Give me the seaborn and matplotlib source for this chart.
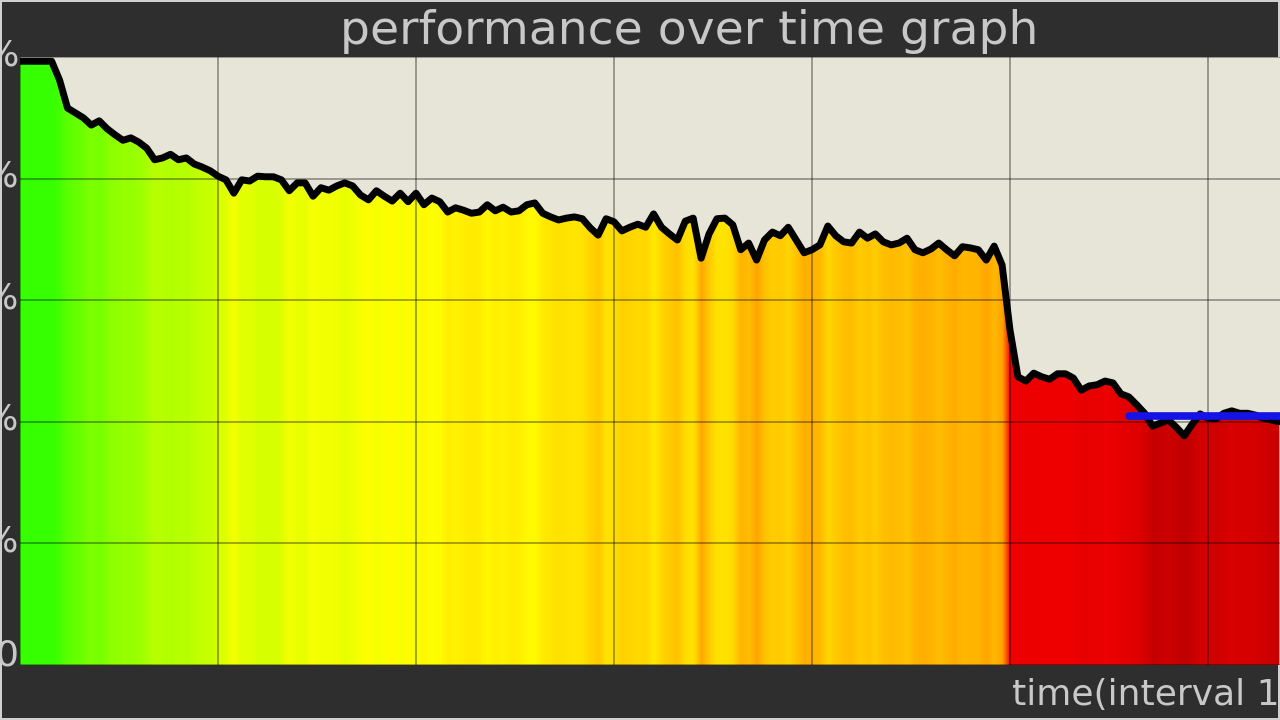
import numpy as np
import matplotlib
matplotlib.use("Agg")
import matplotlib.pyplot as plt
import matplotlib.colors as mcolors
import matplotlib.transforms as mtransforms
import seaborn as sns

# performance samples (%), one per time step
performance = [
    99.3, 99.3, 99.3, 99.3, 99.3, 96.2, 91.6, 90.8, 90.0, 88.8,
    89.5, 88.2, 87.2, 86.3, 86.7, 86.0, 85.0, 83.1, 83.4, 84.0,
    83.1, 83.4, 82.4, 81.9, 81.3, 80.4, 79.8, 77.6, 79.8, 79.6,
    80.4, 80.3, 80.3, 79.8, 78.0, 79.3, 79.3, 77.1, 78.5, 78.1,
    78.8, 79.3, 78.8, 77.3, 76.5, 78.0, 77.1, 76.3, 77.6, 76.2,
    77.6, 75.7, 76.8, 76.2, 74.5, 75.2, 74.8, 74.3, 74.5, 75.7,
    74.7, 75.3, 74.5, 74.7, 75.7, 76.0, 74.3, 73.7, 73.2, 73.5,
    73.7, 73.4, 71.9, 70.7, 73.4, 72.9, 71.4, 72.0, 72.5, 72.0,
    74.2, 72.0, 70.9, 69.9, 73.0, 73.5, 66.9, 70.9, 73.4, 73.5,
    72.4, 68.3, 69.4, 66.6, 69.9, 71.2, 70.6, 72.0, 69.9, 67.8,
    68.3, 69.1, 72.2, 70.6, 69.6, 69.4, 71.2, 70.2, 70.9, 69.6,
    69.1, 69.4, 70.2, 68.3, 67.8, 68.4, 69.4, 68.3, 67.3, 68.8,
    68.6, 68.3, 66.6, 68.9, 65.8, 55.1, 47.4, 46.7, 48.0, 47.4,
    47.0, 47.9, 47.9, 47.2, 45.2, 45.9, 46.1, 46.7, 46.4, 44.6,
    44.1, 42.8, 41.4, 39.3, 39.8, 40.3, 39.1, 37.7, 39.6, 41.3,
    40.6, 40.5, 41.4, 41.8, 41.4, 41.4, 41.1, 40.6, 40.3, 40.0,
]
time_steps = list(range(len(performance)))

# blue reference level over the last part of the run
reference_start = 140
reference_level = 41.0

y_ticks = [0, 20, 40, 60, 80, 100]
y_tick_labels = ["0", "20%", "40%", "60%", "80%", "100%"]
x_grid = [0, 25, 50, 75, 100, 125, 150]

# value -> colour scale (green good, red bad)
color_stops = [
    (35, "#b00000"), (39, "#c40000"), (42, "#dc0000"), (47, "#ee0000"),
    (56, "#f20000"), (60, "#ff5000"), (65, "#ff9a00"), (68, "#ffb000"),
    (71, "#ffcc00"), (74, "#ffe800"), (76.5, "#ffff00"), (79, "#eeff00"),
    (81, "#ccff00"), (84, "#b0ff00"), (88, "#88ff00"), (92, "#55ff00"),
    (100, "#33ff00"),
]

DARK = "#2e2e2e"
TEXT = "#c8c8c8"
PLOT_BG = "#e7e5d7"

sns.set_style("dark")
plt.rcParams["font.family"] = ["DejaVu Sans"]

lo, hi = color_stops[0][0], color_stops[-1][0]
cmap = mcolors.LinearSegmentedColormap.from_list(
    "perf", [((v - lo) / (hi - lo), c) for v, c in color_stops])
norm = mcolors.Normalize(vmin=lo, vmax=hi)
column_colors = np.array([cmap(norm(v)) for v in performance])[np.newaxis, :, :]

fig = plt.figure(figsize=(12.8, 7.2), dpi=100)
fig.patch.set_facecolor(DARK)
fig.patch.set_edgecolor("#d0d0d0")
fig.patch.set_linewidth(1.5)

W, H = 1280, 720
px_per_step = 7.92
left_px, top_px, bottom_px = 20, 57, 665
ax = fig.add_axes([left_px / W, (H - bottom_px) / H,
                   160 * px_per_step / W, (bottom_px - top_px) / H])
ax.set_facecolor(PLOT_BG)

# coloured fill under the curve: colour strip clipped to the area
area = ax.fill_between(time_steps, performance, 0, facecolor="none",
                       linewidth=0)
strip = ax.imshow(column_colors, aspect="auto", interpolation="bilinear",
                  extent=[-0.5, len(performance) - 0.5, 0, 100],
                  origin="lower", zorder=1)
strip.set_clip_path(area.get_paths()[0], transform=ax.transData)

sns.lineplot(x=time_steps, y=performance, ax=ax, color="black",
             linewidth=5.0, zorder=3, solid_joinstyle="round")

ref_x = [reference_start, time_steps[-1] + 1]
sns.lineplot(x=ref_x, y=[reference_level, reference_level], ax=ax,
             color="#1414e6", linewidth=5.5, zorder=4)

ax.set_xlim(0, 160)
ax.set_ylim(0, 100)

for xg in x_grid:
    ax.axvline(xg, color="black", alpha=0.4, linewidth=1.2, zorder=2)
for yg in y_ticks:
    ax.axhline(yg, color="black", alpha=0.4, linewidth=1.2, zorder=2)

ax.set_xticks([])
ax.set_yticks([])
for s in ax.spines.values():
    s.set_visible(False)
ax.grid(False)
ax.set_xlabel("")
ax.set_ylabel("")

# y labels, right-aligned against the plot edge
label_tf = mtransforms.blended_transform_factory(ax.transAxes, ax.transData)
for yv, lab in zip(y_ticks, y_tick_labels):
    dy = 9 if yv == 0 else 2
    tf = label_tf + mtransforms.ScaledTranslation(-1 / 100, dy / 100,
                                                  fig.dpi_scale_trans)
    ax.text(0, yv, lab, transform=tf, ha="right", va="center",
            color=TEXT, fontsize=26, clip_on=False)

fig.text(689 / W, 1 - 44 / H, "performance over time graph",
         ha="center", va="baseline", color=TEXT, fontsize=34)
fig.text(1012 / W, 1 - 705 / H, "time(interval 1s)",
         ha="left", va="baseline", color=TEXT, fontsize=26)

fig.savefig("out.png", dpi=100, facecolor=fig.get_facecolor(),
            edgecolor=fig.get_edgecolor())
